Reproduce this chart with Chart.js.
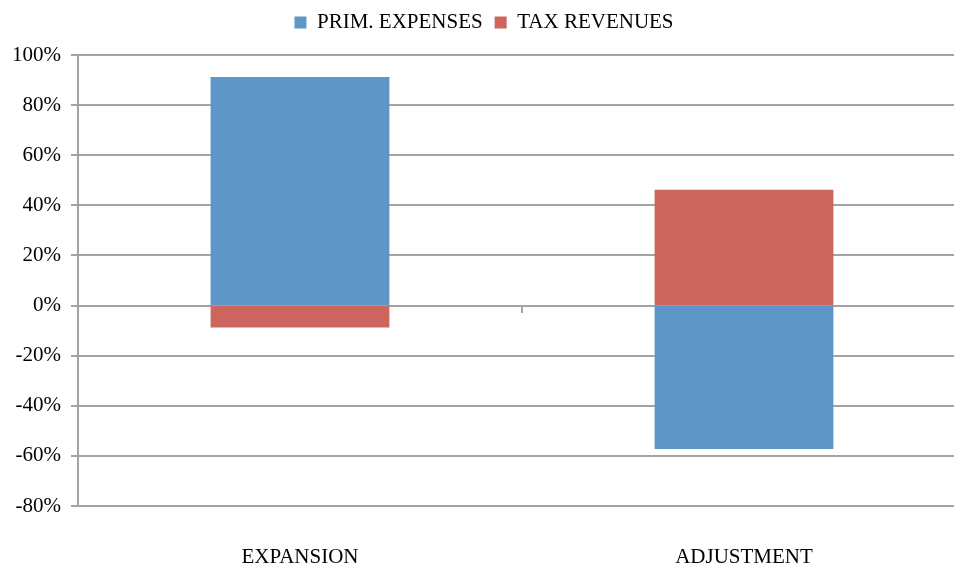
<!DOCTYPE html>
<html>
<head>
<meta charset="utf-8">
<script src="https://cdn.jsdelivr.net/npm/chart.js@4/dist/chart.umd.min.js"></script>
<style>
  html, body { margin: 0; padding: 0; background: #fff; overflow: hidden; }
  #wrap { width: 966px; height: 567px; position: relative; }
</style>
</head>
<body>
<div id="wrap"><canvas id="balanceChart"></canvas></div>
<script>
const categories = ["EXPANSION", "ADJUSTMENT"];
const primExpenses = [91, -57];
const taxRevenues = [-8.5, 46];
const yTicks = [-80, -60, -40, -20, 0, 20, 40, 60, 80, 100];

const serif = "'Liberation Serif', 'Times New Roman', serif";
const gridGray = "#a3a3a3";

// extra room below the legend
const legendGap = {
    id: "legendGap",
    beforeInit(chart) {
        const fit = chart.legend.fit;
        chart.legend.fit = function () {
            fit.call(this);
            this.height += 12;
        };
    }
};

document.addEventListener("DOMContentLoaded", () => {
    const ctx = document.getElementById("balanceChart").getContext("2d");

    new Chart(ctx, {
        type: "bar",
        data: {
            labels: categories,
            datasets: [
                {
                    label: "PRIM. EXPENSES",
                    data: primExpenses,
                    backgroundColor: "#5f96c8",
                    barPercentage: 0.4,
                    categoryPercentage: 1,
                    inflateAmount: 0.6
                },
                {
                    label: "TAX REVENUES",
                    data: taxRevenues,
                    backgroundColor: "#cb655d",
                    barPercentage: 0.4,
                    categoryPercentage: 1,
                    inflateAmount: 0.6
                }
            ]
        },
        plugins: [legendGap],
        options: {
            responsive: true,
            maintainAspectRatio: false,
            animation: false,
            layout: { padding: { left: 2, right: 0, top: 0, bottom: 0 } },
            plugins: {
                tooltip: { enabled: false },
                legend: {
                    position: "top",
                    labels: {
                        boxWidth: 12,
                        boxHeight: 12,
                        color: "#000",
                        padding: 12,
                        font: { family: serif, size: 21 }
                    }
                }
            },
            scales: {
                x: {
                    stacked: true,
                    afterFit: s => { s.height = 61; },
                    grid: { display: false },
                    border: { display: false },
                    ticks: {
                        color: "#000",
                        padding: 31,
                        maxRotation: 0,
                        font: { family: serif, size: 21 }
                    }
                },
                // small tick marks on the zero line between categories
                xZero: {
                    type: "category",
                    labels: categories,
                    position: { y: 0 },
                    offset: true,
                    afterFit: s => { s.height = 0; },
                    grid: {
                        offset: true,
                        drawOnChartArea: false,
                        drawTicks: true,
                        tickLength: 7,
                        color: gridGray,
                        lineWidth: 2
                    },
                    border: { display: false },
                    ticks: { display: false }
                },
                y: {
                    stacked: true,
                    min: -80,
                    max: 100,
                    afterBuildTicks: axis => {
                        axis.ticks = yTicks.map(v => ({ value: v }));
                    },
                    grid: {
                        color: gridGray,
                        lineWidth: 2,
                        tickLength: 7
                    },
                    border: { color: gridGray, width: 2 },
                    ticks: {
                        color: "#000",
                        padding: 10,
                        font: { family: serif, size: 21 },
                        callback: v => v + "%"
                    }
                }
            }
        }
    });
});
</script>
</body>
</html>
